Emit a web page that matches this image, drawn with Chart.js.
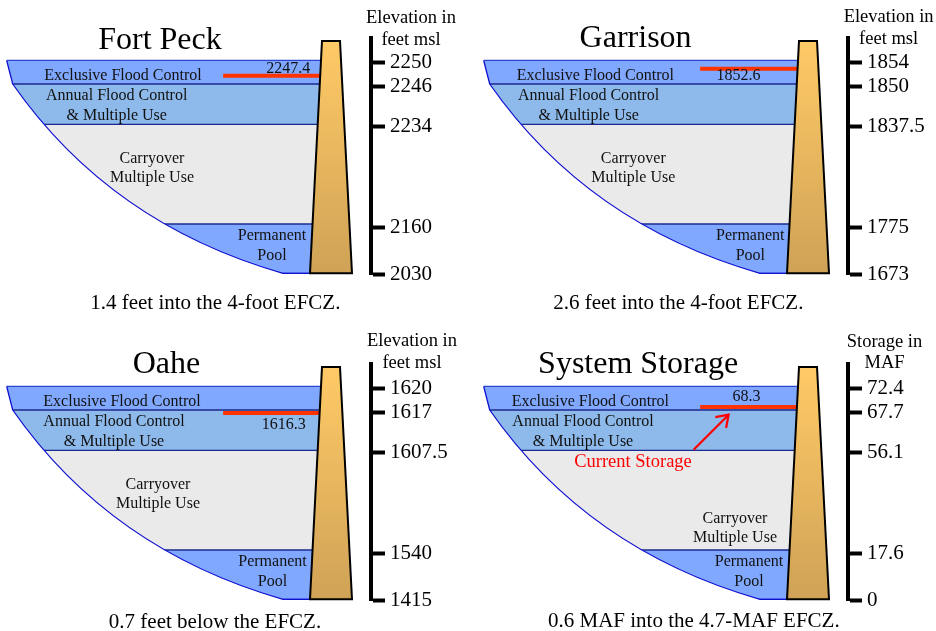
<!DOCTYPE html>
<html><head><meta charset="utf-8">
<script src="https://cdn.jsdelivr.net/npm/chart.js@4.4.1/dist/chart.umd.min.js"></script>
<style>
html,body{margin:0;padding:0;background:#fff;overflow:hidden;width:936px;height:631px;}
canvas{position:absolute;}
</style></head><body>
<canvas id="c0" width="459" height="326" style="left:0;top:0"></canvas>
<canvas id="c1" width="459" height="326" style="left:477px;top:0"></canvas>
<canvas id="c2" width="459" height="326" style="left:0;top:326px"></canvas>
<canvas id="c3" width="459" height="326" style="left:477px;top:326px"></canvas>
<script>
// ---------------- data ----------------
const reservoirNames = ['Fort Peck', 'Garrison', 'Oahe', 'System Storage'];
// zone boundary levels, bottom to top
const fortPeckLevels = [2030, 2160, 2234, 2246, 2250];
const garrisonLevels = [1673, 1775, 1837.5, 1850, 1854];
const oaheLevels     = [1415, 1540, 1607.5, 1617, 1620];
const systemLevels   = [0, 17.6, 56.1, 67.7, 72.4];
const fortPeckTicks = ['2030', '2160', '2234', '2246', '2250'];
const garrisonTicks = ['1673', '1775', '1837.5', '1850', '1854'];
const oaheTicks     = ['1415', '1540', '1607.5', '1617', '1620'];
const systemTicks   = ['0', '17.6', '56.1', '67.7', '72.4'];
const currentValues = [2247.4, 1852.6, 1616.3, 68.3];
const currentLabels = ['2247.4', '1852.6', '1616.3', '68.3'];
const axisTitles = [['Elevation in', 'feet msl'], ['Elevation in', 'feet msl'], ['Elevation in', 'feet msl'], ['Storage in', 'MAF']];
const captions = ['1.4 feet into the 4-foot EFCZ.', '2.6 feet into the 4-foot EFCZ.', '0.7 feet below the EFCZ.', '0.6 MAF into the 4.7-MAF EFCZ.'];
// zones, bottom to top
const zoneNames = [['Permanent', 'Pool'], ['Carryover', 'Multiple Use'], ['Annual Flood Control', '& Multiple Use'], ['Exclusive Flood Control']];
const currentNote = 'Current Storage';

// ---------------- styles / layout ----------------
const SERIF = "'Liberation Serif','Times New Roman',Times,serif";
const zoneColors = ['rgb(128,168,255)', 'rgb(234,234,234)', 'rgb(142,186,235)', 'rgb(128,168,255)'];
const AXIS_STOPS = [0, 0.2, 0.625, 0.795, 0.895];
const RES_STOPS = [0.005, 0.2135, 0.635, 0.8055, 0.905];
const layouts = [
  {titleDx: -211, titleY: 49.3, axDx: 40, axY: [23.3, 45], valDx: -82.7, valDy: -7.4, capDx: -155.7, capY: 309,
   zoneDx: [-99, -219, -254.3, -248], carryDy: [120.5, 139.5]},
  {titleDx: -212.4, titleY: 46.7, axDx: 40.6, axY: [21.7, 44], valDx: -109.4, valDy: 7.5, capDx: -169.7, capY: 309,
   zoneDx: [-97.7, -214.7, -259.4, -252.7], carryDy: [120.5, 139.5]},
  {titleDx: -204.5, titleY: 47.3, axDx: 41, axY: [20, 42.3], valDx: -87.2, valDy: 12, capDx: -156, capY: 302,
   zoneDx: [-98.5, -213, -257, -249], carryDy: [120.5, 139.5]},
  {titleDx: -209.9, titleY: 47.3, axDx: 36.5, axY: [20.7, 42.3], valDx: -101.4, valDy: -9.8, capDx: -154.2, capY: 301.3,
   zoneDx: [-99, -113, -265, -257.7], carryDy: [154.5, 174], note: true}
];

// ---------------- schematic (piecewise-linear) scale ----------------
class ZoneScale extends Chart.LinearScale {
  static id = 'zone';
  determineDataLimits() {
    const lv = this.options.levels;
    this.min = lv[0];
    this.max = lv[lv.length - 1];
  }
  buildTicks() {
    return this.options.levels.map(v => ({value: v}));
  }
  getPixelForValue(value) {
    const lv = this.options.levels, st = this.options.stops;
    let k = 0;
    while (k < lv.length - 2 && value > lv[k + 1]) k++;
    const f = st[k] + (value - lv[k]) / (lv[k + 1] - lv[k]) * (st[k + 1] - st[k]);
    return this.getPixelForDecimal(f);
  }
  getValueForPixel(pixel) {
    const f = this.getDecimalForPixel(pixel);
    const lv = this.options.levels, st = this.options.stops;
    let k = 0;
    while (k < lv.length - 2 && f > st[k + 1]) k++;
    return lv[k] + (f - st[k]) / (st[k + 1] - st[k]) * (lv[k + 1] - lv[k]);
  }
}
Chart.register(ZoneScale);
Chart.defaults.font.family = SERIF;

function geom(chart, levels) {
  const A = chart.chartArea.right, T = chart.chartArea.top;
  const yr = chart.scales.yRes, n = levels.length;
  const yTop = yr.getPixelForValue(levels[n - 1]);
  const yK = yr.getPixelForValue(levels[n - 2]);
  const yBot = yr.getPixelForValue(levels[0]);
  return {A, T, yTop, yK, yBot,
    bankTop: [A - 364.3, yTop], kink: [A - 358.3, yK], ctrl: [A - 260.5, yBot - 49.3], end: [A - 88, yBot],
    damTL: [A - 49, T + 3], damTR: [A - 31, T + 3], damBR: [A - 19, yBot], damBL: [A - 61, yBot]};
}

function makePlugin(idx, levels) {
  const L = layouts[idx];
  return {
    id: 'reservoir' + idx,
    beforeDatasetsDraw(chart) {
      const g = geom(chart, levels), ctx = chart.ctx;
      ctx.save();
      ctx.beginPath();
      ctx.moveTo(g.bankTop[0], g.yTop - 2);
      ctx.lineTo(g.bankTop[0], g.yTop);
      ctx.lineTo(g.kink[0], g.kink[1]);
      ctx.quadraticCurveTo(g.ctrl[0], g.ctrl[1], g.end[0], g.end[1]);
      ctx.lineTo(g.damBL[0], g.yBot);
      ctx.lineTo(g.damTL[0], g.damTL[1]);
      ctx.closePath();
      ctx.clip();
    },
    afterDatasetsDraw(chart) {
      const g = geom(chart, levels), ctx = chart.ctx;
      ctx.restore();
      // bank outline
      ctx.save();
      ctx.beginPath();
      ctx.moveTo(g.bankTop[0], g.yTop);
      ctx.lineTo(g.kink[0], g.kink[1]);
      ctx.quadraticCurveTo(g.ctrl[0], g.ctrl[1], g.end[0], g.end[1]);
      ctx.lineTo(g.damBL[0], g.yBot);
      ctx.strokeStyle = '#1010D0';
      ctx.lineWidth = 1.3;
      ctx.stroke();
      // dam
      const grad = ctx.createLinearGradient(0, g.damTL[1], 0, g.yBot);
      grad.addColorStop(0, '#FFCA66');
      grad.addColorStop(1, '#CFA256');
      ctx.beginPath();
      ctx.moveTo(g.damTL[0], g.damTL[1]);
      ctx.lineTo(g.damTR[0], g.damTR[1]);
      ctx.lineTo(g.damBR[0], g.damBR[1]);
      ctx.lineTo(g.damBL[0], g.damBL[1]);
      ctx.closePath();
      ctx.fillStyle = grad;
      ctx.fill();
      ctx.strokeStyle = '#000';
      ctx.lineWidth = 2;
      ctx.lineJoin = 'miter';
      ctx.stroke();
      ctx.restore();
    },
    afterDraw(chart) {
      const g = geom(chart, levels), ctx = chart.ctx, A = g.A, T = g.T;
      const redY = chart.scales.yRes.getPixelForValue(currentValues[idx]);
      ctx.save();
      ctx.fillStyle = '#000';
      ctx.textAlign = 'center';
      // title
      ctx.textBaseline = 'alphabetic';
      ctx.font = '32px ' + SERIF;
      ctx.fillText(reservoirNames[idx], A + L.titleDx, L.titleY);
      // axis title
      ctx.font = '18.5px ' + SERIF;
      ctx.fillText(axisTitles[idx][0], A + L.axDx, L.axY[0]);
      ctx.fillText(axisTitles[idx][1], A + L.axDx, L.axY[1]);
      // caption
      ctx.font = '21px ' + SERIF;
      ctx.fillText(captions[idx], A + L.capDx, L.capY);
      // zone labels
      ctx.textBaseline = 'middle';
      ctx.font = '16px ' + SERIF;
      ctx.fillStyle = '#111';
      const zoneDy = [[198, 217.5], L.carryDy, [58, 77.5], [37.3]];
      for (let z = 0; z < zoneNames.length; z++) {
        zoneNames[z].forEach((t, j) => ctx.fillText(t, A + L.zoneDx[z], T + zoneDy[z][j]));
      }
      // current value label
      ctx.fillText(currentLabels[idx], A + L.valDx, redY + L.valDy);
      if (L.note) {
        ctx.fillStyle = '#FF0000';
        ctx.font = '18.5px ' + SERIF;
        ctx.fillText(currentNote, A - 215, redY + 55);
        const tip = [A - 119.4, redY + 7.7], tail = [A - 154.4, redY + 42.7];
        const ang = Math.atan2(tail[1] - tip[1], tail[0] - tip[0]);
        ctx.strokeStyle = '#FF0000';
        ctx.lineWidth = 2.2;
        ctx.beginPath();
        ctx.moveTo(tail[0], tail[1]);
        ctx.lineTo(tip[0], tip[1]);
        const hl = 13.5, ha = 0.6;
        ctx.moveTo(tip[0] + hl * Math.cos(ang + ha), tip[1] + hl * Math.sin(ang + ha));
        ctx.lineTo(tip[0], tip[1]);
        ctx.lineTo(tip[0] + hl * Math.cos(ang - ha), tip[1] + hl * Math.sin(ang - ha));
        ctx.stroke();
      }
      ctx.restore();
    }
  };
}

function buildDatasets(levels, current) {
  const n = levels.length, ds = [];
  for (let i = 0; i < n; i++) {
    const k = n - 1 - i; // level index, top first
    ds.push({
      data: [{x: 0, y: levels[k]}, {x: 100, y: levels[k]}],
      yAxisID: 'yRes', xAxisID: 'x',
      borderColor: i === 0 ? '#2C45D0' : (i === n - 1 ? '#1010D0' : '#1B2A8F'),
      borderWidth: 1.3,
      pointRadius: 0,
      fill: i < n - 1 ? '+1' : false,
      backgroundColor: i < n - 1 ? zoneColors[k - 1] : 'transparent',
      order: n - i + 1
    });
  }
  ds.push({
    data: [{x: 59.6, y: current}, {x: 100, y: current}],
    yAxisID: 'yRes', xAxisID: 'x',
    borderColor: '#FF3300', borderWidth: 4, pointRadius: 0, fill: false, order: 0
  });
  return ds;
}

function makeChart(idx, levels, tickLabels) {
  return new Chart(document.getElementById('c' + idx), {
    type: 'line',
    data: {datasets: buildDatasets(levels, currentValues[idx])},
    options: {
      responsive: false, animation: false, events: [],
      layout: {padding: {left: 5, top: 38, right: 0, bottom: 51.5}},
      plugins: {legend: {display: false}, tooltip: {enabled: false}, title: {display: false}},
      scales: {
        x: {type: 'linear', min: 0, max: 100, display: false},
        yRes: {type: 'zone', axis: 'y', display: false, levels: levels, stops: RES_STOPS},
        y: {
          type: 'zone', axis: 'y', position: 'right', levels: levels, stops: AXIS_STOPS,
          afterFit: s => { s.width = 88; },
          border: {display: true, color: '#000', width: 4},
          grid: {display: true, drawOnChartArea: false, drawTicks: true, tickLength: 14, tickWidth: 4, tickColor: '#000'},
          ticks: {color: '#000', font: {family: SERIF, size: 21}, padding: 5, autoSkip: false, maxRotation: 0,
                  callback: (v, i) => tickLabels[i]}
        }
      }
    },
    plugins: [makePlugin(idx, levels)]
  });
}

makeChart(0, fortPeckLevels, fortPeckTicks);
makeChart(1, garrisonLevels, garrisonTicks);
makeChart(2, oaheLevels, oaheTicks);
makeChart(3, systemLevels, systemTicks);
</script>
</body></html>
